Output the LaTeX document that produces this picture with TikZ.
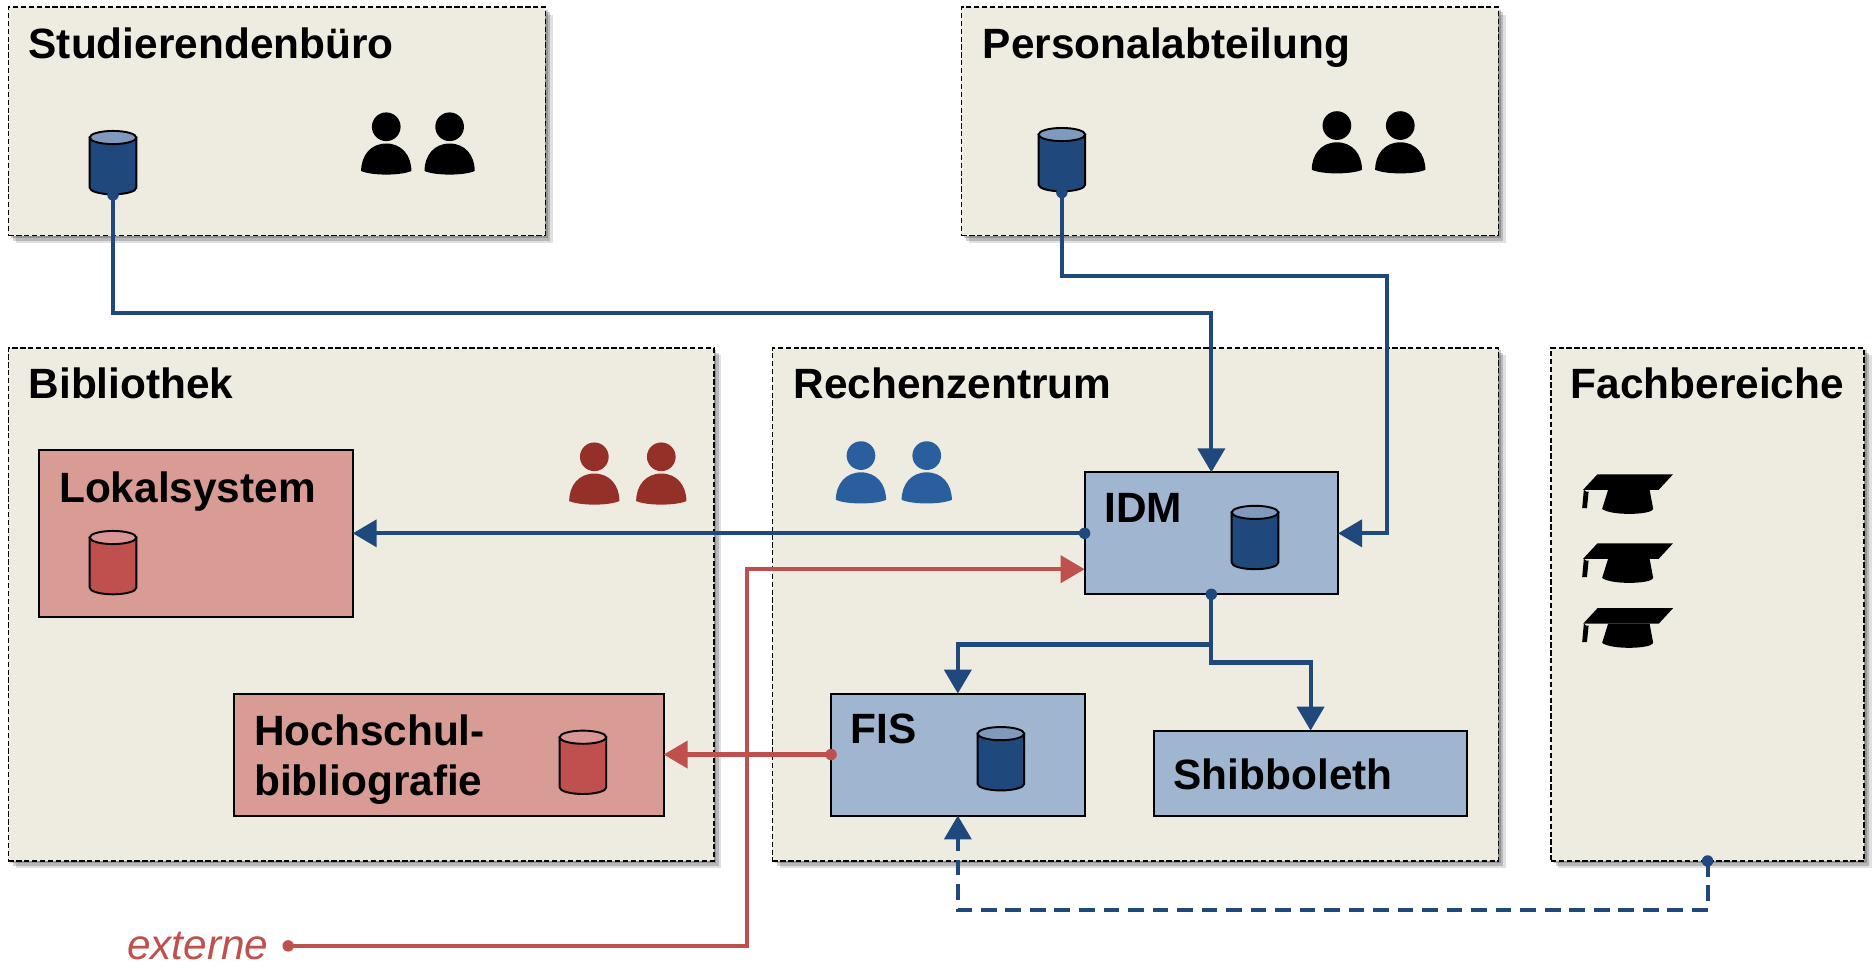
\documentclass[tikz,border=0pt]{standalone}
\usepackage{fontspec}
\setmainfont{Liberation Sans}
\usetikzlibrary{arrows.meta,shadows}
\definecolor{beige}{HTML}{EEECE1}
\definecolor{boxblue}{HTML}{9FB5D0}
\definecolor{boxred}{HTML}{D99C94}
\definecolor{dbblue}{HTML}{1F497D}
\definecolor{dbbluetop}{HTML}{7F9ABC}
\definecolor{dbred}{HTML}{C0504D}
\definecolor{dbredtop}{HTML}{D99694}
\definecolor{peopleblue}{HTML}{2A5F9E}
\definecolor{peoplered}{HTML}{953028}
\def\u{0.024cm}
\tikzset{
  softshadow/.style={
    general shadow={shadow xshift=.05cm,shadow yshift=-.05cm,fill=black,fill opacity=.2,draw=none},
    general shadow={shadow xshift=.1cm,shadow yshift=-.1cm,fill=black,fill opacity=.18,draw=none},
    general shadow={shadow xshift=.15cm,shadow yshift=-.15cm,fill=black,fill opacity=.12,draw=none}},
  dept/.style={rectangle,draw=black,line width=.9pt,dash pattern=on 3pt off 1.5pt,fill=beige,
    inner sep=0pt,outer sep=0pt,softshadow},
  sysblue/.style={rectangle,draw=black,line width=1.1pt,fill=boxblue,inner sep=0pt,outer sep=0pt},
  sysred/.style={rectangle,draw=black,line width=1.1pt,fill=boxred,inner sep=0pt,outer sep=0pt},
  title/.style={anchor=base west,inner sep=0pt,outer sep=0pt,font=\fontsize{24.2}{28.6}\selectfont\bfseries},
  dot/.style={circle,inner sep=0pt,outer sep=0pt,minimum size=.23cm},
  flow/.style={line width=2.4pt,-{Triangle[length=.48cm,width=.54cm]}},
  pics/dbicon/.style 2 args={code={
    \draw[line width=1.1pt,fill=#1] (-19.5,-21) -- (-19.5,21)
      arc[start angle=180,end angle=0,x radius=19.5,y radius=5.5] -- (19.5,-21) -- cycle;
    \draw[line width=1.1pt,fill=#2] (0,-21) ellipse[x radius=19.5,y radius=5.5];
  }},
  person/.pic={
    \fill[pic actions] (0,0) circle (12);
    \fill[pic actions] (-21,37) .. controls (-21,24) and (-13,14) .. (0,14)
      .. controls (13,14) and (21,24) .. (21,37) .. controls (12,41) and (-12,41) .. cycle;
  },
  gradhat/.pic={
    \fill (-25.6,0) -- (37.6,0) -- (25.6,13) -- (-37.6,13) -- cycle;
    \fill (-37,13) -- (-38.4,28.4) -- (-34.4,28.4) -- (-33,14.5) -- (-35,14.5) -- cycle;
    \fill (-16.7,13) -- (18,13) -- (21,29) .. controls (20,34) and (-14,35) .. (-21.7,29) -- cycle;
  }
}
\begin{document}
\begin{tikzpicture}[x=0.024cm,y=-0.024cm]
  \useasboundingbox (0,0) rectangle (1568,806);
  % departments
  \node (stud) [dept,minimum width=449*\u,minimum height=191*\u] at (231.5,101.5) {};
  \node (pers) [dept,minimum width=449*\u,minimum height=191*\u] at (1028.5,101.5) {};
  \node (bib) [dept,minimum width=590*\u,minimum height=429*\u] at (302,505.5) {};
  \node (rz) [dept,minimum width=607*\u,minimum height=429*\u] at (949.5,505.5) {};
  \node (fach) [dept,minimum width=262*\u,minimum height=429*\u] at (1428,505.5) {};
  \node (studtitle) [title] at (24,49) {Studierendenbüro};
  \node (perstitle) [title] at (822,49) {Personalabteilung};
  \node (bibtitle) [title] at (24,333.5) {Bibliothek};
  \node (rztitle) [title] at (663.5,333.5) {Rechenzentrum};
  \node (fachtitle) [title] at (1313.5,333.5) {Fachbereiche};
  % systems
  \node (loka) [sysred,minimum width=262*\u,minimum height=140*\u] at (164,446) {};
  \node (hoch) [sysred,minimum width=359*\u,minimum height=102*\u] at (375.5,631) {};
  \node (fis) [sysblue,minimum width=212*\u,minimum height=102*\u] at (801,631) {};
  \node (shib) [sysblue,minimum width=262*\u,minimum height=71*\u] at (1096,646.5) {};
  \node (idm) [sysblue,minimum width=212*\u,minimum height=102*\u] at (1013,446) {};
  \node (lokatitle) [title] at (49.5,420) {Lokalsystem};
  \node (hochtitle) [title,align=left,anchor=west] at (212.5,635) {Hochschul-\\bibliografie};
  \node (fistitle) [title] at (711.5,622) {FIS};
  \node (shibtitle) [title] at (981.5,660) {Shibboleth};
  \node (idmtitle) [title] at (923.5,437) {IDM};
  % databases
  \pic at (94.5,136) {dbicon={dbblue}{dbbluetop}};
  \pic at (888,133.5) {dbicon={dbblue}{dbbluetop}};
  \pic at (94.5,470.5) {dbicon={dbred}{dbredtop}};
  \pic at (487.5,637.5) {dbicon={dbred}{dbredtop}};
  \pic at (837,634.5) {dbicon={dbblue}{dbbluetop}};
  \pic at (1049.5,449.5) {dbicon={dbblue}{dbbluetop}};
  % people
  \foreach \x in {323,376} \pic at (\x,106) {person};
  \foreach \x in {1118,1171} \pic at (\x,105) {person};
  \foreach \x in {497,553} \pic[fill=peoplered] at (\x,382) {person};
  \foreach \x in {720,775} \pic[fill=peopleblue] at (\x,381) {person};
  \foreach \y in {396.6,454.3,508.6} \pic at (1361.5,\y) {gradhat};
  % connectors
  \node (studdot) [dot,fill=dbblue] at (94.5,163) {};
  \node (persdot) [dot,fill=dbblue] at (888,161) {};
  \node (idmdotw) [dot,fill=dbblue] at (idm.west) {};
  \node (idmdots) [dot,fill=dbblue] at (idm.south) {};
  \node (fisdot) [dot,fill=dbred] at (fis.west) {};
  \node (fachdot) [dot,fill=dbblue] at (fach.south) {};
  \node (ext) [anchor=base west,inner sep=0pt,font=\fontsize{24.2}{29}\selectfont\itshape,text=dbred] at (106,802) {externe};
  \node (extdot) [dot,fill=dbred] at (241,791) {};
  \coordinate (studbend) at (94.5,262);
  \coordinate (persbend) at (888,231);
  \coordinate (persdown) at (1160,446);
  \coordinate (fisbend) at (1013,539);
  \coordinate (shibbend) at (1013,554);
  \coordinate (extbend) at (625,791);
  \coordinate (extup) at (625,476);
  \coordinate (idmred) at (907,476);
  \coordinate (fachbend) at (1428,761);
  \coordinate (fisup) at (801,761);
  \draw[flow,dbblue] (studdot.center) -- (studbend) -| (idm.north);
  \draw[flow,dbblue] (persdot.center) -- (persbend) -| (persdown) -- (idm.east);
  \draw[flow,dbblue] (idmdotw.center) -- (loka.east);
  \draw[flow,dbblue] (idmdots.center) -- (fisbend) -| (fis.north);
  \draw[flow,dbblue] (idmdots.center) -- (shibbend) -| (shib.north);
  \draw[flow,dbred] (fisdot.center) -- (hoch.east);
  \draw[flow,dbred] (extdot.center) -- (extbend) -- (extup) -- (idmred);
  \draw[flow,dbblue,dash pattern=on 9pt off 5pt] (fachdot.center) -- (fachbend) -- (fisup) -- (fis.south);
\end{tikzpicture}
\end{document}
